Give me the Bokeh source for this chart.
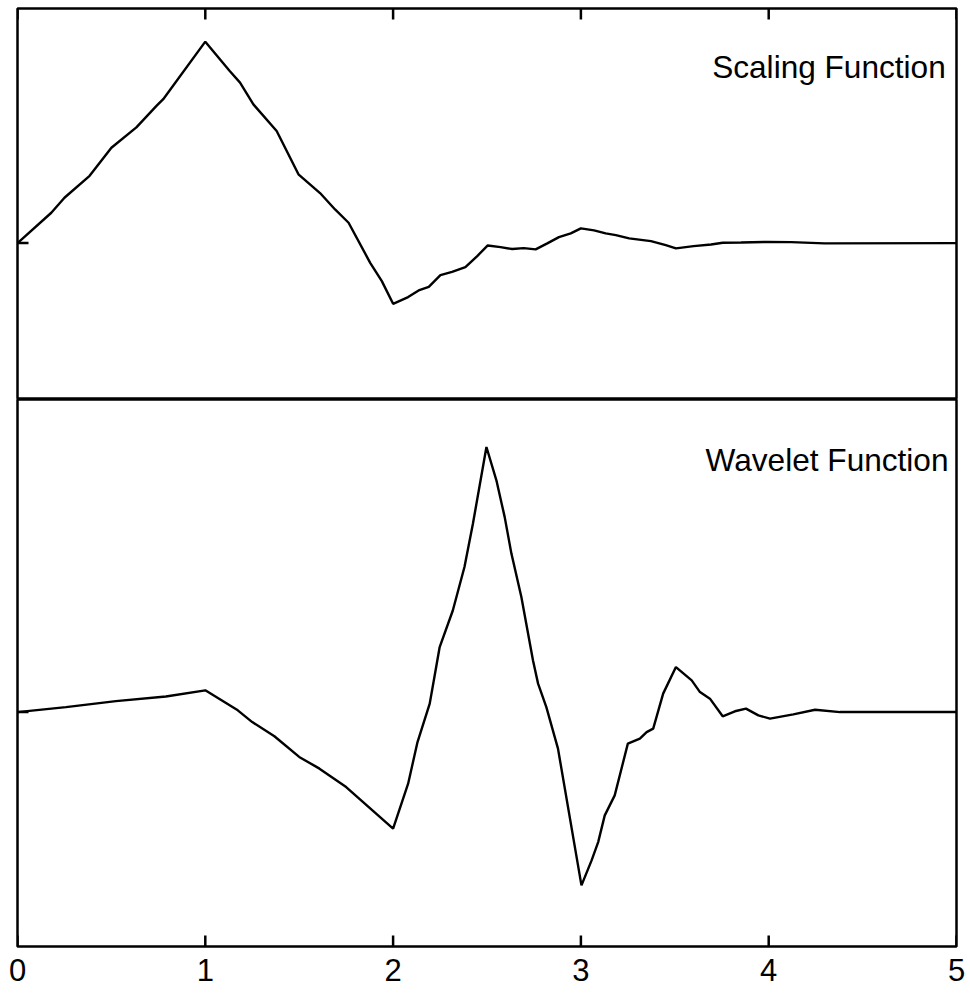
from bokeh.plotting import figure
from bokeh.layouts import column
from bokeh.models import LinearAxis, FixedTicker, Range1d
from bokeh.core.properties import value
from bokeh.embed import file_html
from bokeh.resources import INLINE

FONT = "Liberation Sans"

# Scaling function (phi) samples
phi_x = [0, 0.18, 0.25, 0.384, 0.5, 0.633, 0.74, 0.776, 1.0, 1.13, 1.185, 1.256,
         1.38, 1.496, 1.611, 1.691, 1.763, 1.878, 1.94, 2.0, 2.08, 2.136, 2.19,
         2.252, 2.314, 2.385, 2.448, 2.504, 2.572, 2.634, 2.696, 2.759, 2.821,
         2.883, 2.946, 3.0, 3.07, 3.132, 3.186, 3.257, 3.373, 3.452, 3.506, 3.60,
         3.693, 3.755, 3.853, 3.995, 4.12, 4.297, 5.0]
phi_y = [0, 0.194, 0.29, 0.43, 0.61, 0.74, 0.877, 0.92, 1.288, 1.10, 1.026, 0.887,
         0.717, 0.44, 0.32, 0.215, 0.13, -0.126, -0.243, -0.388, -0.345, -0.303, -0.28,
         -0.205, -0.184, -0.154, -0.083, -0.015, -0.026, -0.038, -0.032, -0.04, -0.002,
         0.038, 0.062, 0.094, 0.081, 0.062, 0.051, 0.03, 0.013, -0.013, -0.034, -0.019,
         -0.009, 0.002, 0.004, 0.008, 0.006, -0.002, 0]

# Wavelet function (psi) samples
psi_x = [0, 0.258, 0.524, 0.79, 1.0, 1.173, 1.25, 1.368, 1.5, 1.608, 1.75, 2.0,
         2.08, 2.13, 2.195, 2.22, 2.248, 2.318, 2.38, 2.425, 2.497, 2.55, 2.594,
         2.63, 2.683, 2.745, 2.772, 2.816, 2.878, 3.003, 3.057, 3.092, 3.127, 3.18,
         3.25, 3.314, 3.35, 3.385, 3.438, 3.506, 3.59, 3.634, 3.687, 3.755, 3.82,
         3.879, 3.945, 4.007, 4.131, 4.247, 4.38, 5.0]
psi_y = [0, 0.032, 0.07, 0.10, 0.139, 0.011, -0.064, -0.155, -0.287, -0.362, -0.48, -0.746,
         -0.458, -0.192, 0.054, 0.224, 0.416, 0.65, 0.928, 1.205, 1.696, 1.483, 1.249,
         1.014, 0.736, 0.33, 0.182, 0.032, -0.234, -1.109, -0.949, -0.832, -0.661, -0.533,
         -0.202, -0.17, -0.128, -0.106, 0.118, 0.288, 0.203, 0.128, 0.086, -0.027, 0.005,
         0.022, -0.021, -0.042, -0.015, 0.015, 0, 0]

x_ticks = [0, 1, 2, 3, 4, 5]
x_tick_labels = {0: "0", 1: "1", 2: "2", 3: "3", 4: "4", 5: "5"}
y_ticks = [0]
titles = ["Scaling Function", "Wavelet Function"]

X_RANGE = (0, 5)
TOP_RANGE = (-1.0, 1.5)
BOT_RANGE = (-1.5, 2.0)
FRAME_W = 939
TOP_H = 391
BOT_H = 547
TICK_PX = 11


def base_fig(yr, frame_h, top_b, bot_b):
    p = figure(frame_width=FRAME_W, frame_height=frame_h,
               x_range=Range1d(*X_RANGE), y_range=Range1d(*yr),
               output_backend="svg", toolbar_location=None,
               x_axis_location=None, y_axis_location=None,
               min_border_left=17, min_border_right=14,
               min_border_top=top_b, min_border_bottom=bot_b)
    p.xgrid.visible = False
    p.ygrid.visible = False
    p.outline_line_color = "black"
    p.outline_line_width = 2.5
    p.outline_line_alpha = 1.0
    p.background_fill_color = "white"
    p.border_fill_color = "white"
    return p


def add_ticks(p, yr, frame_h, at_top):
    # inward tick marks of TICK_PX screen pixels, converted to data units
    dy = TICK_PX * (yr[1] - yr[0]) / frame_h
    dx = TICK_PX * (X_RANGE[1] - X_RANGE[0]) / FRAME_W
    if at_top:
        y0, y1 = yr[1], yr[1] - dy
    else:
        y0, y1 = yr[0], yr[0] + dy
    n = len(x_ticks)
    p.segment(x0=x_ticks, y0=[y0] * n, x1=x_ticks, y1=[y1] * n,
              line_color="black", line_width=2.5)
    m = len(y_ticks)
    p.segment(x0=[X_RANGE[0]] * m, y0=y_ticks, x1=[X_RANGE[0] + dx] * m, y1=y_ticks,
              line_color="black", line_width=2.5)


# Top panel
p1 = base_fig(TOP_RANGE, TOP_H, 8, 0)
add_ticks(p1, TOP_RANGE, TOP_H, True)
p1.line(phi_x, phi_y, line_color="black", line_width=2.4)
p1.text(x=[3.699], y=[1.128], text=[titles[0]], text_font=value(FONT),
        text_font_size=value("31.6px"), text_baseline="alphabetic",
        text_align="left", text_color="black")

# Bottom panel
p2 = base_fig(BOT_RANGE, BOT_H, 0, 48)
bx = LinearAxis(ticker=FixedTicker(ticks=x_ticks))
bx.axis_line_color = None
bx.major_tick_line_color = None
bx.minor_tick_line_color = None
bx.major_tick_in = 0
bx.major_tick_out = 0
bx.major_label_text_font = FONT
bx.major_label_text_font_size = "31px"
bx.major_label_text_color = "black"
bx.major_label_standoff = 12
bx.major_label_overrides = x_tick_labels
p2.add_layout(bx, "below")
add_ticks(p2, BOT_RANGE, BOT_H, False)
p2.line(psi_x, psi_y, line_color="black", line_width=2.4)
p2.text(x=[3.664], y=[1.61], text=[titles[1]], text_font=value(FONT),
        text_font_size=value("31.6px"), text_baseline="alphabetic",
        text_align="left", text_color="black")

layout = column(p1, p2, spacing=0)
open("out.html", "w").write(file_html(layout, INLINE))
